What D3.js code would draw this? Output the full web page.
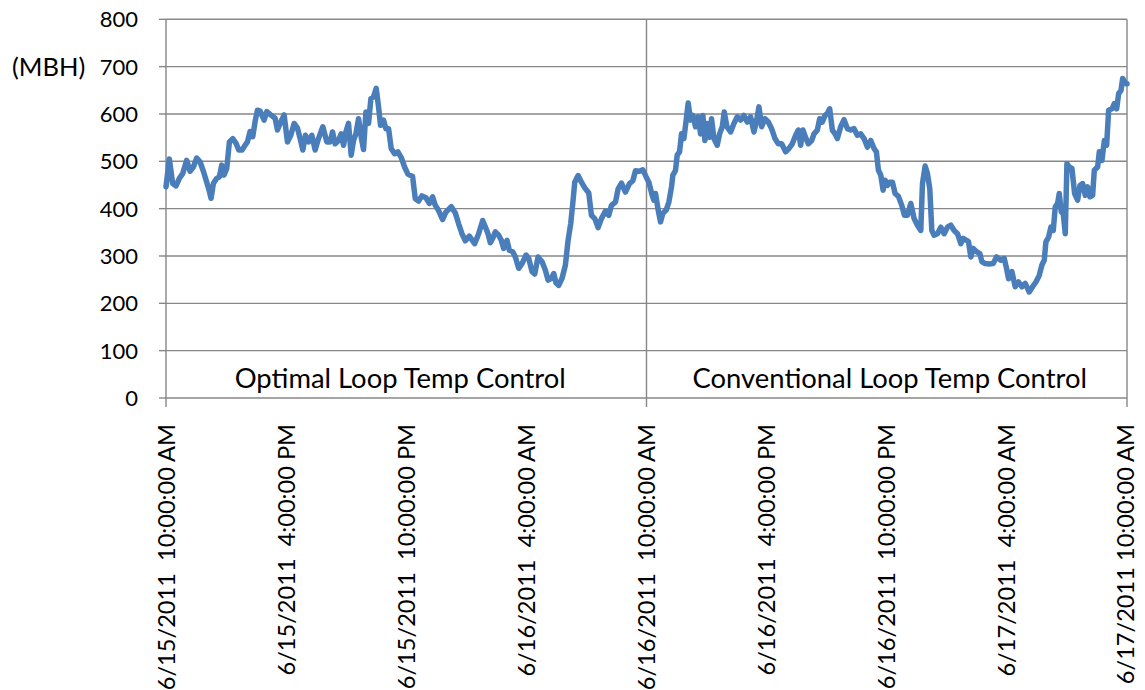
<!DOCTYPE html>
<html><head><meta charset="utf-8">
<script src="https://cdn.jsdelivr.net/npm/d3@7/dist/d3.min.js"></script>
<style>
body{margin:0;background:#fff}
text{font-family:Lato,"Open Sans",sans-serif;fill:#000;white-space:pre}
</style>
</head><body><svg id="c" width="1145" height="690"></svg>
<script>
// minutes since 6/15/2011 10:00:00 AM
const minutes = [0,10,20,30,40,50,62,72,82,92,102,112,122,129,135,142,152,160,167,174,182,190,200,210,218,228,237,244,252,260,267,274,282,294,302,314,327,334,342,354,364,374,384,394,402,410,418,427,437,447,457,470,482,
492,499,507,517,525,532,539,547,555,562,569,577,585,592,599,607,614,622,630,637,643,652,659,667,675,685,695,705,715,725,739,747,757,767,779,789,799,807,817,829,839,855,867,877,887,897,909,925,937,949,959,
965,972,979,987,997,1005,1012,1022,1029,1039,1047,1057,1067,1079,1087,1097,1105,1115,1127,1137,1145,1155,1162,1169,1177,1187,1197,1205,1213,1219,1225,1235,1245,1255,1267,1275,1285,1295,1305,1317,1327,1335,1347,1355,1365,1377,1389,1399,1407,1419,1429,1439,
1447,1457,1462,1467,1475,1482,1489,1499,1507,1515,1519,1527,1532,1539,1545,1552,1557,1565,1572,1579,1587,1595,1602,1609,1615,1622,1629,1635,1642,1652,1659,1667,1673,1681,1692,1702,1712,1722,1732,1742,1752,1762,1769,1777,1785,1795,1805,1815,1825,1835,1845,1857,1867,1877,1887,1895,1902,1909,1917,
1925,1935,1942,1952,1959,1967,1975,1982,1989,1997,2005,2012,2022,2032,2042,2052,2062,2072,2082,2092,2102,2112,2122,2129,2135,2142,2149,2155,2162,2169,2177,2185,2195,2205,2213,2222,2232,2242,2252,2262,2267,2275,2282,2289,2295,2302,2312,2322,2332,2342,2352,2362,2372,2382,2389,2399,
2405,2412,2419,2429,2439,2445,2455,2467,2479,2489,2502,2512,2519,2525,2535,2545,2555,2565,2575,2587,2597,2607,2617,2625,2632,2637,2645,2652,2659,2665,2672,2677,2683,2689,2695,2700,2707,2715,2723,2732,2739,2747,2755,2762,2769,2777,2782,2792,2797,2805,2812,2819,2825,2835,2842,2849,2855,2862,2867,2877,2880];

// heating load (MBH)
const load = [446,505,453,448,464,474,502,479,488,507,499,479,456,439,422,453,464,467,492,471,485,541,548,538,524,524,534,541,563,552,584,608,606,587,605,598,591,566,580,598,541,555,580,570,548,524,555,541,555,524,548,573,541,
541,562,537,544,558,534,562,580,513,544,558,590,551,525,604,580,632,636,654,615,576,587,569,569,527,516,520,508,488,473,468,421,416,427,423,411,425,407,396,377,393,404,391,368,347,332,342,326,347,375,358,
347,328,337,351,344,333,316,333,312,309,298,274,284,302,295,267,262,298,288,270,249,253,263,243,238,253,281,333,369,411,456,470,456,444,433,386,379,360,379,395,386,407,414,442,454,435,453,459,480,479,482,467,
456,428,418,432,397,372,390,397,414,446,471,481,513,520,558,548,576,623,587,597,573,594,558,597,544,580,551,590,548,534,558,573,604,573,562,580,594,587,597,583,594,562,583,615,573,590,583,569,548,537,537,520,527,537,555,566,534,566,550,
537,544,558,566,590,583,597,601,611,566,558,548,573,588,569,566,569,555,558,548,530,544,527,520,481,471,439,460,449,456,456,432,426,407,386,386,411,379,365,354,453,490,474,442,354,344,347,361,347,361,365,354,347,326,337,333,
330,298,316,309,305,288,284,283,284,298,291,295,274,252,267,235,245,235,242,224,235,245,259,281,291,330,340,361,354,404,411,432,393,390,347,495,488,485,432,418,449,453,428,446,425,428,481,488,520,502,544,534,608,611,622,611,643,650,675,664,664];

const yTicks = [0,100,200,300,400,500,600,700,800];
const xTickHours = [0,6,12,18,24,30,36,42,48];
const xTickLabels = ["6/15/2011  10:00:00 AM","6/15/2011  4:00:00 PM","6/15/2011  10:00:00 PM","6/16/2011  4:00:00 AM","6/16/2011  10:00:00 AM","6/16/2011  4:00:00 PM","6/16/2011  10:00:00 PM","6/17/2011  4:00:00 AM","6/17/2011 10:00:00 AM"];
const dayMarkHours = [0,24,48];
const regionLabels = ["Optimal Loop Temp Control","Conventional Loop Temp Control"];
const regionHours = [12,36];
const unitLabel = "(MBH)";

const start = new Date(2011,5,15,10,0,0);
const toDate = m => new Date(start.getTime() + m*60000);

const L = 166, R = 1127, T = 19.3, B = 398;
const svg = d3.select("#c");
const x = d3.scaleTime().domain([start, toDate(48*60)]).range([L, R]);
const y = d3.scaleLinear().domain([0, 800]).range([B, T]);
const grid = "#878787";

// horizontal gridlines
svg.append("g").selectAll("line").data(yTicks.filter(d=>d>0)).join("line")
  .attr("x1", L).attr("x2", R).attr("y1", d=>y(d)).attr("y2", d=>y(d))
  .attr("stroke", grid).attr("stroke-width", 1.4);

// vertical day lines (with ticks below axis)
svg.append("g").selectAll("line").data(dayMarkHours).join("line")
  .attr("x1", d=>x(toDate(d*60))).attr("x2", d=>x(toDate(d*60)))
  .attr("y1", T).attr("y2", B+9)
  .attr("stroke", grid).attr("stroke-width", 1.4);

// x axis line
svg.append("line").attr("x1", L).attr("x2", R).attr("y1", B).attr("y2", B)
  .attr("stroke", grid).attr("stroke-width", 1.4);

// y axis ticks
svg.append("g").selectAll("line").data(yTicks).join("line")
  .attr("x1", L-7).attr("x2", L).attr("y1", d=>y(d)).attr("y2", d=>y(d))
  .attr("stroke", grid).attr("stroke-width", 1.4);

// y labels
svg.append("g").selectAll("text").data(yTicks).join("text")
  .attr("x", 138).attr("y", d=>y(d)).attr("dy", "0.36em")
  .attr("text-anchor", "end").style("font-size", "22px").text(d=>d);

svg.append("text").attr("x", 12).attr("y", y(700)).attr("dy", "0.36em")
  .style("font-size", "25.5px").text(unitLabel);

// x labels
svg.append("g").selectAll("text").data(xTickHours).join("text")
  .attr("transform", (d,i)=>`translate(${x(toDate(d*60)) + (i===8?-2:0)},424) rotate(-90)`)
  .attr("dy", "0.36em").attr("text-anchor", "end")
  .style("font-size", "23.6px").text((d,i)=>xTickLabels[i]);

// region labels
svg.append("g").selectAll("text").data(regionHours).join("text")
  .attr("x", (d,i)=>x(toDate(d*60)) + (i===0?-6:3)).attr("y", 388)
  .attr("text-anchor", "middle").style("font-size", "27.4px").text((d,i)=>regionLabels[i]);

// data line
const pts = minutes.map((m,i)=>({t: toDate(m), v: load[i]}));
svg.append("path").datum(pts)
  .attr("d", d3.line().x(d=>x(d.t)).y(d=>y(d.v)))
  .attr("fill", "none").attr("stroke", "#4a7ebb").attr("stroke-width", 5.5)
  .attr("stroke-linejoin", "round").attr("stroke-linecap", "round");
</script>
</body></html>
